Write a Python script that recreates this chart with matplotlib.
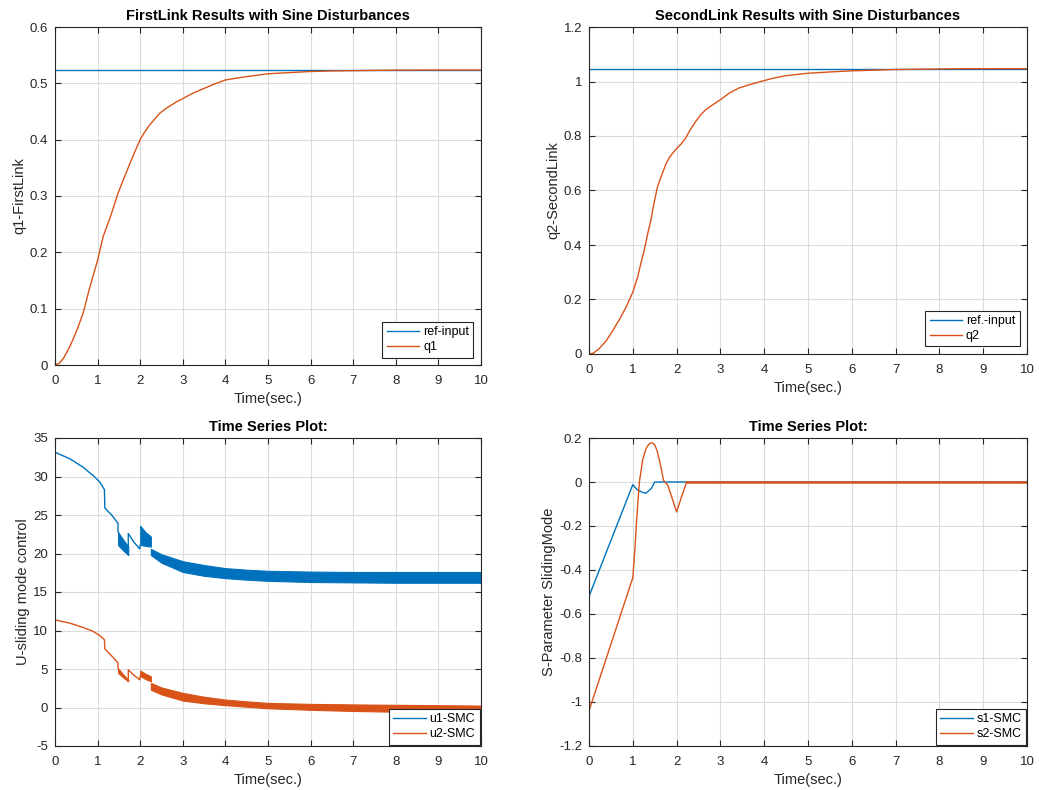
import numpy as np
import matplotlib
matplotlib.use("Agg")
import matplotlib.pyplot as plt

plt.rcParams['font.family'] = ['Liberation Sans', 'DejaVu Sans']
plt.rcParams['axes.unicode_minus'] = False

BLUE = '#0072BD'
ORANGE = '#D95319'
DARK = '#262626'

# --- FirstLink ---
t_q1 = [0, 0.1, 0.2, 0.35, 0.5, 0.66, 0.8, 0.9, 1.0, 1.13, 1.3, 1.48, 1.6, 1.76, 1.9, 2.0,
        2.1, 2.2, 2.3, 2.46, 2.6, 2.7, 2.85, 3.0, 3.25, 3.5, 3.75, 4.0, 4.5, 5.0, 5.5, 6.0,
        6.5, 7.0, 8.0, 9.0, 10.0]
q1 = [0, 0.003, 0.012, 0.033, 0.059, 0.092, 0.133, 0.16, 0.186, 0.228, 0.263, 0.305, 0.328,
      0.358, 0.383, 0.40, 0.413, 0.424, 0.433, 0.447, 0.455, 0.46, 0.467, 0.473, 0.483,
      0.491, 0.499, 0.506, 0.512, 0.517, 0.519, 0.521, 0.522, 0.5225, 0.5234, 0.5236, 0.5236]
ref1 = 0.5236

# --- SecondLink ---
t_q2 = [0, 0.1, 0.24, 0.4, 0.55, 0.7, 0.85, 1.0, 1.11, 1.18, 1.26, 1.33, 1.41, 1.48, 1.56,
        1.62, 1.68, 1.75, 1.83, 1.9, 2.0, 2.1, 2.21, 2.3, 2.44, 2.55, 2.67, 2.8, 3.0, 3.2,
        3.42, 3.7, 3.97, 4.2, 4.48, 4.98, 5.5, 5.98, 6.6, 7.0, 7.5, 8.5, 10.0]
q2 = [0, 0.003, 0.021, 0.05, 0.088, 0.128, 0.173, 0.227, 0.282, 0.33, 0.38, 0.435, 0.489,
      0.55, 0.611, 0.64, 0.665, 0.695, 0.72, 0.735, 0.754, 0.77, 0.793, 0.82, 0.854, 0.878,
      0.897, 0.912, 0.933, 0.957, 0.976, 0.99, 1.002, 1.012, 1.021, 1.030, 1.035, 1.039,
      1.042, 1.044, 1.045, 1.047, 1.047]
ref2 = 1.0472

# --- control signals (thin parts + chattering envelopes) ---
u1_t_a = [0, 0.35, 0.66, 0.9, 1.05, 1.16, 1.17, 1.33, 1.48, 1.48]
u1_a = [33.15, 32.3, 31.2, 30.1, 29.3, 28.3, 25.9, 25.0, 23.9, 22.8]
u1_t_b = [1.72, 1.72, 1.85, 1.99, 2.0]
u1_b = [20.9, 22.6, 21.5, 20.6, 21.1]
u1_band_t = [[1.48, 1.6, 1.72], [2.0, 2.12, 2.25],
             [2.25, 2.5, 3, 3.5, 4, 4.5, 5, 6, 7, 8, 9, 10]]
u1_hi = [[22.8, 21.8, 20.9], [23.6, 22.8, 22.2],
         [20.6, 19.9, 19.0, 18.5, 18.1, 17.9, 17.75, 17.65, 17.6, 17.6, 17.6, 17.6]]
u1_lo = [[21.1, 20.4, 19.8], [21.1, 21.0, 20.9],
         [19.8, 18.8, 17.6, 17.1, 16.8, 16.6, 16.45, 16.3, 16.25, 16.2, 16.2, 16.2]]

u2_t_a = [0, 0.35, 0.66, 0.9, 1.05, 1.16, 1.17, 1.33, 1.48, 1.48]
u2_a = [11.38, 10.95, 10.4, 9.87, 9.35, 8.8, 7.6, 6.7, 5.8, 5.1]
u2_t_b = [1.72, 1.72, 1.85, 1.99, 2.0]
u2_b = [3.4, 4.9, 4.2, 3.6, 4.1]
u2_band_t = u1_band_t
u2_hi = [[5.1, 4.3, 3.6], [4.8, 4.4, 4.05],
         [3.2, 2.6, 1.9, 1.4, 1.03, 0.8, 0.6, 0.47, 0.4, 0.35, 0.3, 0.25]]
u2_lo = [[4.5, 3.9, 3.4], [4.1, 3.7, 3.4],
         [2.3, 1.7, 0.9, 0.55, 0.3, 0.1, -0.1, -0.3, -0.45, -0.55, -0.6, -0.7]]

# --- sliding surfaces ---
t_s1 = [0, 1.0, 1.1, 1.23, 1.3, 1.42, 1.5, 2.0, 2.2, 10.0]
s1 = [-0.52, -0.012, -0.035, -0.048, -0.051, -0.03, 0, 0, 0, 0]
t_s2 = [0, 1.0, 1.05, 1.09, 1.15, 1.23, 1.3, 1.36, 1.42, 1.46, 1.5, 1.55, 1.6, 1.65, 1.7,
        1.8, 1.9, 2.0, 2.1, 2.23]
s2 = [-1.04, -0.435, -0.30, -0.166, 0, 0.106, 0.151, 0.17, 0.178, 0.176, 0.169, 0.145,
      0.106, 0.06, 0.008, -0.015, -0.075, -0.136, -0.075, 0]
t_s2_end = [2.23, 10.0]
s2_end = [0, 0]

W, H = 1039, 790
fig = plt.figure(figsize=(W / 100, H / 100), dpi=100)


def make_ax(x0, y0, x1, y1):
    # pixel box -> figure fraction
    return fig.add_axes([x0 / W, 1 - y1 / H, (x1 - x0) / W, (y1 - y0) / H])


def style(ax, title, ylabel, ylim, yticks):
    ax.set_xlim(0, 10)
    ax.set_xticks(range(0, 11))
    ax.set_ylim(*ylim)
    ax.set_yticks(yticks)
    ax.grid(True, color='#dcdcdc', linewidth=0.8)
    ax.set_axisbelow(True)
    ax.tick_params(direction='in', top=True, right=True, length=4, width=0.8,
                   colors=DARK, labelsize=9.5, labelcolor=DARK)
    ax.tick_params(axis='x', pad=7)
    ax.tick_params(axis='y', pad=5)
    for sp in ax.spines.values():
        sp.set_color(DARK)
        sp.set_linewidth(0.8)
    ax.set_title(title, fontsize=10.5, fontweight='bold', color='black', pad=5)
    ax.set_xlabel('Time(sec.)', fontsize=10.5, color=DARK, labelpad=4)
    ax.set_ylabel(ylabel, fontsize=10.5, color=DARK, labelpad=2)


def legend(ax, pad):
    lg = ax.legend(loc='lower right', fontsize=9, fancybox=False, framealpha=1,
                   edgecolor=DARK, borderaxespad=pad, handlelength=2.6,
                   handletextpad=0.3, borderpad=0.35, labelspacing=0.25)
    lg.get_frame().set_linewidth(0.8)


ax1 = make_ax(55, 27, 481, 365)
ax1.axhline(ref1, color=BLUE, lw=1.0, label='ref-input')
ax1.plot(t_q1, q1, color=ORANGE, lw=1.0, label='q1')
style(ax1, 'FirstLink Results with Sine Disturbances', 'q1-FirstLink', (0, 0.6),
      np.arange(0, 0.61, 0.1))
ax1.set_yticklabels(['0', '0.1', '0.2', '0.3', '0.4', '0.5', '0.6'])
legend(ax1, 0.6)

ax2 = make_ax(589, 27, 1027, 354)
ax2.axhline(ref2, color=BLUE, lw=1.0, label='ref.-input')
ax2.plot(t_q2, q2, color=ORANGE, lw=1.0, label='q2')
style(ax2, 'SecondLink Results with Sine Disturbances', 'q2-SecondLink', (0, 1.2),
      np.arange(0, 1.21, 0.2))
ax2.set_yticklabels(['0', '0.2', '0.4', '0.6', '0.8', '1', '1.2'])
legend(ax2, 0.6)

ax3 = make_ax(55, 438, 481, 746)
ax3.plot(u1_t_a, u1_a, color=BLUE, lw=1.0, label='u1-SMC')
ax3.plot(u1_t_b, u1_b, color=BLUE, lw=1.0)
for tt, hi, lo in zip(u1_band_t, u1_hi, u1_lo):
    ax3.fill_between(tt, lo, hi, color=BLUE, lw=0.8)
ax3.plot(u2_t_a, u2_a, color=ORANGE, lw=1.0, label='u2-SMC')
ax3.plot(u2_t_b, u2_b, color=ORANGE, lw=1.0)
for tt, hi, lo in zip(u2_band_t, u2_hi, u2_lo):
    ax3.fill_between(tt, lo, hi, color=ORANGE, lw=0.8)
style(ax3, 'Time Series Plot:', 'U-sliding mode control', (-5, 35), range(-5, 36, 5))
legend(ax3, 0.1)

ax4 = make_ax(589, 438, 1027, 746)
ax4.plot(t_s1, s1, color=BLUE, lw=1.0, label='s1-SMC')
ax4.plot(t_s2, s2, color=ORANGE, lw=1.0, label='s2-SMC')
ax4.plot(t_s2_end, s2_end, color=ORANGE, lw=1.8)
style(ax4, 'Time Series Plot:', 'S-Parameter SlidingMode', (-1.2, 0.2),
      np.arange(-1.2, 0.21, 0.2))
ax4.set_yticklabels(['-1.2', '-1', '-0.8', '-0.6', '-0.4', '-0.2', '0', '0.2'])
legend(ax4, 0.1)

fig.savefig('out.png', dpi=100)
